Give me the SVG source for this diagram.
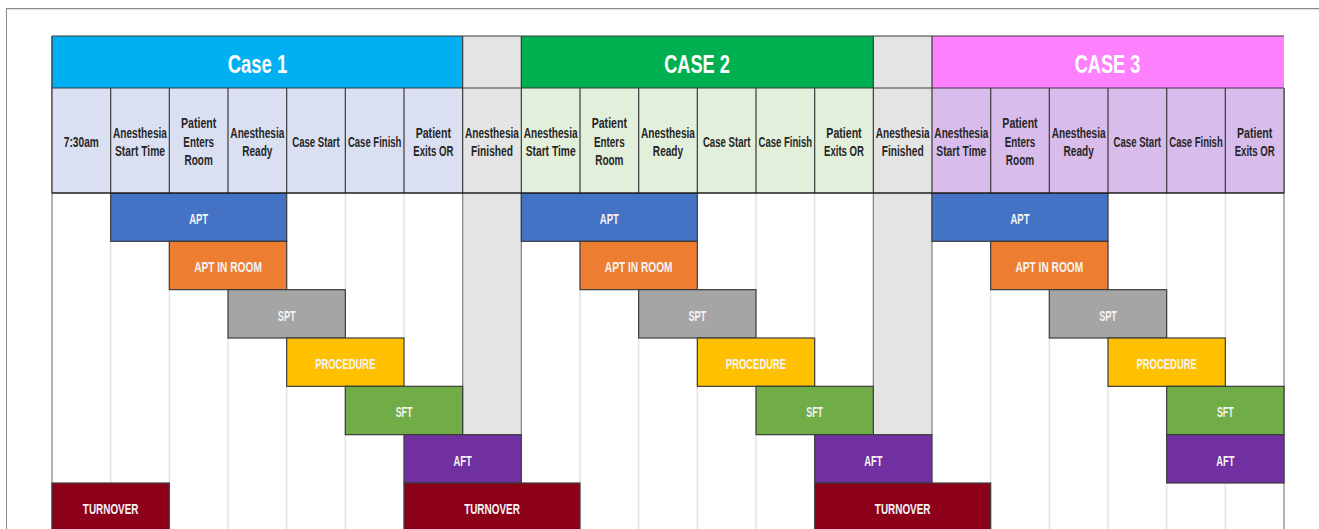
<svg xmlns="http://www.w3.org/2000/svg" width="1319" height="529" viewBox="0 0 1319 529">
<style>
.hd{font-family:"Liberation Sans",Arial,sans-serif;font-size:14px;font-weight:bold;fill:#262626;text-anchor:middle}
.tt{font-family:"Liberation Sans",Arial,sans-serif;font-size:26px;font-weight:bold;fill:#ffffff;text-anchor:middle}
.lb{font-family:"Liberation Sans",Arial,sans-serif;font-size:14px;font-weight:bold;fill:#f4f4f4;text-anchor:middle}
.bar{stroke:#3c3c3c;stroke-width:1.2}
.grid{stroke:#e4e4e4;stroke-width:1.5}
.dk{stroke:#3a3a3a;stroke-width:1.2}
.md{stroke:#7f7f7f;stroke-width:1.2}
</style>
<rect x="0" y="0" width="1319" height="529" fill="#ffffff"/>
<g id="frame">
<line x1="6" y1="8.5" x2="1319" y2="8.5" stroke="#8a8a8a" stroke-width="1"/>
<line x1="6" y1="9.6" x2="1319" y2="9.6" stroke="#dedede" stroke-width="1"/>
<line x1="6.5" y1="8" x2="6.5" y2="529" stroke="#8a8a8a" stroke-width="1"/>
</g>
<g id="body-grid">
<rect x="462.67" y="193" width="58.67" height="241.67" fill="#e4e4e4"/>
<rect x="873.33" y="193" width="58.67" height="241.67" fill="#e4e4e4"/>
<g class="grid">
<line x1="110.67" y1="193" x2="110.67" y2="529"/>
<line x1="169.33" y1="193" x2="169.33" y2="529"/>
<line x1="228" y1="193" x2="228" y2="529"/>
<line x1="286.67" y1="193" x2="286.67" y2="529"/>
<line x1="345.33" y1="193" x2="345.33" y2="529"/>
<line x1="404" y1="193" x2="404" y2="529"/>
<line x1="580" y1="193" x2="580" y2="529"/>
<line x1="638.67" y1="193" x2="638.67" y2="529"/>
<line x1="697.33" y1="193" x2="697.33" y2="529"/>
<line x1="756" y1="193" x2="756" y2="529"/>
<line x1="814.67" y1="193" x2="814.67" y2="529"/>
<line x1="990.67" y1="193" x2="990.67" y2="529"/>
<line x1="1049.33" y1="193" x2="1049.33" y2="529"/>
<line x1="1108" y1="193" x2="1108" y2="529"/>
<line x1="1166.67" y1="193" x2="1166.67" y2="529"/>
<line x1="1225.33" y1="193" x2="1225.33" y2="529"/>
<line x1="462.67" y1="434.67" x2="462.67" y2="529"/>
<line x1="521.33" y1="434.67" x2="521.33" y2="529"/>
<line x1="873.33" y1="434.67" x2="873.33" y2="529"/>
<line x1="932" y1="434.67" x2="932" y2="529"/>
</g>
<g class="md">
<line x1="462.67" y1="193" x2="462.67" y2="434.67"/>
<line x1="521.33" y1="193" x2="521.33" y2="434.67"/>
<line x1="873.33" y1="193" x2="873.33" y2="434.67"/>
<line x1="932" y1="193" x2="932" y2="434.67"/>
<line x1="52" y1="36" x2="52" y2="529"/>
<line x1="1284" y1="88" x2="1284" y2="529"/>
</g>
</g>
<g id="connectors"></g>
<g id="case1-bars">
<g id="c1-apt"><rect class="bar" x="110.67" y="193" width="176" height="48.33" fill="#4472c4"/><text class="lb" x="198.67" y="224" textLength="19" lengthAdjust="spacingAndGlyphs">APT</text></g>
<g id="c1-aptroom"><rect class="bar" x="169.33" y="241.33" width="117.33" height="48.33" fill="#ed7d31"/><text class="lb" x="228" y="272.3" textLength="67.7" lengthAdjust="spacingAndGlyphs">APT IN ROOM</text></g>
<g id="c1-spt"><rect class="bar" x="228" y="289.67" width="117.33" height="48.33" fill="#a5a5a5"/><text class="lb" x="286.67" y="320.7" textLength="17.7" lengthAdjust="spacingAndGlyphs">SPT</text></g>
<g id="c1-proc"><rect class="bar" x="286.67" y="338" width="117.33" height="48.33" fill="#ffc000"/><text class="lb" x="345.33" y="369" textLength="60.3" lengthAdjust="spacingAndGlyphs">PROCEDURE</text></g>
<g id="c1-sft"><rect class="bar" x="345.33" y="386.33" width="117.33" height="48.33" fill="#70ad47"/><text class="lb" x="404" y="417.3" textLength="16.7" lengthAdjust="spacingAndGlyphs">SFT</text></g>
<g id="c1-aft"><rect class="bar" x="404" y="434.67" width="117.33" height="48.33" fill="#7030a0"/><text class="lb" x="462.67" y="465.7" textLength="18.3" lengthAdjust="spacingAndGlyphs">AFT</text></g>
<g id="c1-turn0"><rect class="bar" x="52" y="483" width="117.33" height="48.33" fill="#8c001a"/><text class="lb" x="110.67" y="514" textLength="55.7" lengthAdjust="spacingAndGlyphs">TURNOVER</text></g>
<g id="c1-turn"><rect class="bar" x="404" y="483" width="176" height="48.33" fill="#8c001a"/><text class="lb" x="492" y="514" textLength="55.7" lengthAdjust="spacingAndGlyphs">TURNOVER</text></g>
</g>
<g id="case2-bars">
<g id="c2-apt"><rect class="bar" x="521.33" y="193" width="176" height="48.33" fill="#4472c4"/><text class="lb" x="609.33" y="224" textLength="19" lengthAdjust="spacingAndGlyphs">APT</text></g>
<g id="c2-aptroom"><rect class="bar" x="580" y="241.33" width="117.33" height="48.33" fill="#ed7d31"/><text class="lb" x="638.67" y="272.3" textLength="67.7" lengthAdjust="spacingAndGlyphs">APT IN ROOM</text></g>
<g id="c2-spt"><rect class="bar" x="638.67" y="289.67" width="117.33" height="48.33" fill="#a5a5a5"/><text class="lb" x="697.33" y="320.7" textLength="17.7" lengthAdjust="spacingAndGlyphs">SPT</text></g>
<g id="c2-proc"><rect class="bar" x="697.33" y="338" width="117.33" height="48.33" fill="#ffc000"/><text class="lb" x="756" y="369" textLength="60.3" lengthAdjust="spacingAndGlyphs">PROCEDURE</text></g>
<g id="c2-sft"><rect class="bar" x="756" y="386.33" width="117.33" height="48.33" fill="#70ad47"/><text class="lb" x="814.67" y="417.3" textLength="16.7" lengthAdjust="spacingAndGlyphs">SFT</text></g>
<g id="c2-aft"><rect class="bar" x="814.67" y="434.67" width="117.33" height="48.33" fill="#7030a0"/><text class="lb" x="873.33" y="465.7" textLength="18.3" lengthAdjust="spacingAndGlyphs">AFT</text></g>
<g id="c2-turn"><rect class="bar" x="814.67" y="483" width="176" height="48.33" fill="#8c001a"/><text class="lb" x="902.67" y="514" textLength="55.7" lengthAdjust="spacingAndGlyphs">TURNOVER</text></g>
</g>
<g id="case3-bars">
<g id="c3-apt"><rect class="bar" x="932" y="193" width="176" height="48.33" fill="#4472c4"/><text class="lb" x="1020" y="224" textLength="19" lengthAdjust="spacingAndGlyphs">APT</text></g>
<g id="c3-aptroom"><rect class="bar" x="990.67" y="241.33" width="117.33" height="48.33" fill="#ed7d31"/><text class="lb" x="1049.33" y="272.3" textLength="67.7" lengthAdjust="spacingAndGlyphs">APT IN ROOM</text></g>
<g id="c3-spt"><rect class="bar" x="1049.33" y="289.67" width="117.33" height="48.33" fill="#a5a5a5"/><text class="lb" x="1108" y="320.7" textLength="17.7" lengthAdjust="spacingAndGlyphs">SPT</text></g>
<g id="c3-proc"><rect class="bar" x="1108" y="338" width="117.33" height="48.33" fill="#ffc000"/><text class="lb" x="1166.67" y="369" textLength="60.3" lengthAdjust="spacingAndGlyphs">PROCEDURE</text></g>
<g id="c3-sft"><rect class="bar" x="1166.67" y="386.33" width="117.33" height="48.33" fill="#70ad47"/><text class="lb" x="1225.33" y="417.3" textLength="16.7" lengthAdjust="spacingAndGlyphs">SFT</text></g>
<g id="c3-aft"><rect class="bar" x="1166.67" y="434.67" width="117.33" height="48.33" fill="#7030a0"/><text class="lb" x="1225.33" y="465.7" textLength="18.3" lengthAdjust="spacingAndGlyphs">AFT</text></g>
</g>
<g id="header-titles">
<g id="case1-title"><rect x="52" y="36" width="410.67" height="52" fill="#00b0f0"/><text class="tt" x="257.5" y="72.5" textLength="59.7" lengthAdjust="spacingAndGlyphs">Case 1</text></g>
<g id="gap1-title"><rect x="462.67" y="36" width="58.67" height="52" fill="#e4e4e4"/></g>
<g id="case2-title"><rect x="521.33" y="36" width="352" height="52" fill="#00b050"/><text class="tt" x="697" y="72.5" textLength="65.7" lengthAdjust="spacingAndGlyphs">CASE 2</text></g>
<g id="gap2-title"><rect x="873.33" y="36" width="58.67" height="52" fill="#e4e4e4"/></g>
<g id="case3-title"><rect x="932" y="36" width="352" height="52" fill="#ff80ff"/><text class="tt" x="1107.5" y="72.5" textLength="65.7" lengthAdjust="spacingAndGlyphs">CASE 3</text></g>
</g>
<g id="header-cells">
<rect x="52" y="88" width="410.67" height="105" fill="#dae0f2"/>
<rect x="462.67" y="88" width="58.67" height="105" fill="#e4e4e4"/>
<rect x="521.33" y="88" width="352" height="105" fill="#e2efda"/>
<rect x="873.33" y="88" width="58.67" height="105" fill="#e4e4e4"/>
<rect x="932" y="88" width="352" height="105" fill="#d8bcec"/>
<g class="dk">
<line x1="52" y1="36" x2="1284" y2="36"/>
<line x1="52" y1="88" x2="1284" y2="88"/>
<line x1="52" y1="36" x2="52" y2="193"/>
<line x1="462.67" y1="36" x2="462.67" y2="88"/>
<line x1="521.33" y1="36" x2="521.33" y2="88"/>
<line x1="873.33" y1="36" x2="873.33" y2="88"/>
<line x1="932" y1="36" x2="932" y2="88"/>
<line x1="110.67" y1="88" x2="110.67" y2="193"/>
<line x1="169.33" y1="88" x2="169.33" y2="193"/>
<line x1="228" y1="88" x2="228" y2="193"/>
<line x1="286.67" y1="88" x2="286.67" y2="193"/>
<line x1="345.33" y1="88" x2="345.33" y2="193"/>
<line x1="404" y1="88" x2="404" y2="193"/>
<line x1="462.67" y1="88" x2="462.67" y2="193"/>
<line x1="521.33" y1="88" x2="521.33" y2="193"/>
<line x1="580" y1="88" x2="580" y2="193"/>
<line x1="638.67" y1="88" x2="638.67" y2="193"/>
<line x1="697.33" y1="88" x2="697.33" y2="193"/>
<line x1="756" y1="88" x2="756" y2="193"/>
<line x1="814.67" y1="88" x2="814.67" y2="193"/>
<line x1="873.33" y1="88" x2="873.33" y2="193"/>
<line x1="932" y1="88" x2="932" y2="193"/>
<line x1="990.67" y1="88" x2="990.67" y2="193"/>
<line x1="1049.33" y1="88" x2="1049.33" y2="193"/>
<line x1="1108" y1="88" x2="1108" y2="193"/>
<line x1="1166.67" y1="88" x2="1166.67" y2="193"/>
<line x1="1225.33" y1="88" x2="1225.33" y2="193"/>
<line x1="1284" y1="88" x2="1284" y2="193"/>
</g>
<line x1="52" y1="193" x2="1284" y2="193" stroke="#1e1e1e" stroke-width="1.6"/>
</g>
<g id="case1-labels">
<g id="h1-730"><text class="hd" x="81.33" y="146.7" textLength="35" lengthAdjust="spacingAndGlyphs">7:30am</text></g>
<g id="h1-ast"><text class="hd" x="140" y="137.5" textLength="54" lengthAdjust="spacingAndGlyphs">Anesthesia</text><text class="hd" x="140" y="156" textLength="50" lengthAdjust="spacingAndGlyphs">Start Time</text></g>
<g id="h1-per"><text class="hd" x="198.67" y="128.2" textLength="35.3" lengthAdjust="spacingAndGlyphs">Patient</text><text class="hd" x="198.67" y="146.8" textLength="30.7" lengthAdjust="spacingAndGlyphs">Enters</text><text class="hd" x="198.67" y="165.4" textLength="28.3" lengthAdjust="spacingAndGlyphs">Room</text></g>
<g id="h1-ar"><text class="hd" x="257.33" y="137.5" textLength="54" lengthAdjust="spacingAndGlyphs">Anesthesia</text><text class="hd" x="257.33" y="156" textLength="30.3" lengthAdjust="spacingAndGlyphs">Ready</text></g>
<g id="h1-cs"><text class="hd" x="316" y="146.7" textLength="47.5" lengthAdjust="spacingAndGlyphs">Case Start</text></g>
<g id="h1-cf"><text class="hd" x="374.67" y="146.7" textLength="53.5" lengthAdjust="spacingAndGlyphs">Case Finish</text></g>
<g id="h1-pex"><text class="hd" x="433.33" y="137.5" textLength="35.3" lengthAdjust="spacingAndGlyphs">Patient</text><text class="hd" x="433.33" y="156" textLength="40" lengthAdjust="spacingAndGlyphs">Exits OR</text></g>
<g id="h1-af"><text class="hd" x="492" y="137.5" textLength="54" lengthAdjust="spacingAndGlyphs">Anesthesia</text><text class="hd" x="492" y="156" textLength="42" lengthAdjust="spacingAndGlyphs">Finished</text></g>
</g>
<g id="case2-labels">
<g id="h2-ast"><text class="hd" x="550.67" y="137.5" textLength="54" lengthAdjust="spacingAndGlyphs">Anesthesia</text><text class="hd" x="550.67" y="156" textLength="50" lengthAdjust="spacingAndGlyphs">Start Time</text></g>
<g id="h2-per"><text class="hd" x="609.33" y="128.2" textLength="35.3" lengthAdjust="spacingAndGlyphs">Patient</text><text class="hd" x="609.33" y="146.8" textLength="30.7" lengthAdjust="spacingAndGlyphs">Enters</text><text class="hd" x="609.33" y="165.4" textLength="28.3" lengthAdjust="spacingAndGlyphs">Room</text></g>
<g id="h2-ar"><text class="hd" x="668" y="137.5" textLength="54" lengthAdjust="spacingAndGlyphs">Anesthesia</text><text class="hd" x="668" y="156" textLength="30.3" lengthAdjust="spacingAndGlyphs">Ready</text></g>
<g id="h2-cs"><text class="hd" x="726.67" y="146.7" textLength="47.5" lengthAdjust="spacingAndGlyphs">Case Start</text></g>
<g id="h2-cf"><text class="hd" x="785.33" y="146.7" textLength="53.5" lengthAdjust="spacingAndGlyphs">Case Finish</text></g>
<g id="h2-pex"><text class="hd" x="844" y="137.5" textLength="35.3" lengthAdjust="spacingAndGlyphs">Patient</text><text class="hd" x="844" y="156" textLength="40" lengthAdjust="spacingAndGlyphs">Exits OR</text></g>
<g id="h2-af"><text class="hd" x="902.67" y="137.5" textLength="54" lengthAdjust="spacingAndGlyphs">Anesthesia</text><text class="hd" x="902.67" y="156" textLength="42" lengthAdjust="spacingAndGlyphs">Finished</text></g>
</g>
<g id="case3-labels">
<g id="h3-ast"><text class="hd" x="961.33" y="137.5" textLength="54" lengthAdjust="spacingAndGlyphs">Anesthesia</text><text class="hd" x="961.33" y="156" textLength="50" lengthAdjust="spacingAndGlyphs">Start Time</text></g>
<g id="h3-per"><text class="hd" x="1020" y="128.2" textLength="35.3" lengthAdjust="spacingAndGlyphs">Patient</text><text class="hd" x="1020" y="146.8" textLength="30.7" lengthAdjust="spacingAndGlyphs">Enters</text><text class="hd" x="1020" y="165.4" textLength="28.3" lengthAdjust="spacingAndGlyphs">Room</text></g>
<g id="h3-ar"><text class="hd" x="1078.67" y="137.5" textLength="54" lengthAdjust="spacingAndGlyphs">Anesthesia</text><text class="hd" x="1078.67" y="156" textLength="30.3" lengthAdjust="spacingAndGlyphs">Ready</text></g>
<g id="h3-cs"><text class="hd" x="1137.33" y="146.7" textLength="47.5" lengthAdjust="spacingAndGlyphs">Case Start</text></g>
<g id="h3-cf"><text class="hd" x="1196" y="146.7" textLength="53.5" lengthAdjust="spacingAndGlyphs">Case Finish</text></g>
<g id="h3-pex"><text class="hd" x="1254.67" y="137.5" textLength="35.3" lengthAdjust="spacingAndGlyphs">Patient</text><text class="hd" x="1254.67" y="156" textLength="40" lengthAdjust="spacingAndGlyphs">Exits OR</text></g>
</g>
</svg>
